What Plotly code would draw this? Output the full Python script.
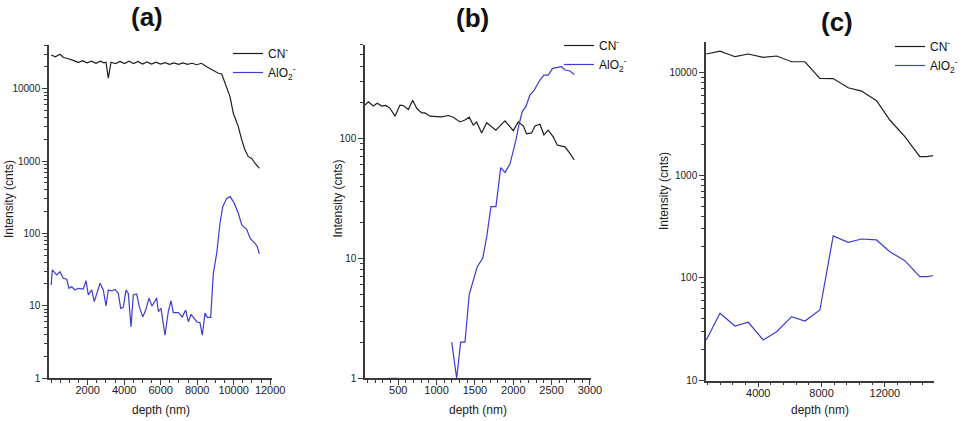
import plotly.graph_objects as go

# ---------------- data ----------------
# panel (a)
a_cn_depth = [0, 230, 483, 675, 850, 1058, 1250, 1486, 1716, 1962,
              2209, 2456, 2702, 2894, 3004, 3130, 3278, 3524, 3771, 4017,
              4264, 4511, 4757, 5004, 5250, 5497, 5744, 5990, 6237, 6483,
              6730, 6977, 7223, 7470, 7716, 7974, 8237, 8522, 8867, 9158,
              9344, 9525, 9799, 9980, 10254, 10440, 10621, 10802, 10988, 11169,
              11350, 11405]
a_cn_int = [29300, 27600, 30000, 27000, 26400, 25500, 24500, 23000, 24500, 22800,
            24000, 22500, 24000, 22800, 23300, 14000, 23300, 22300, 23800, 22300,
            24000, 22300, 23800, 22000, 23500, 22000, 23300, 22000, 23000, 21800,
            22800, 21800, 22800, 21800, 22500, 21500, 22500, 20200, 18200, 16400,
            16000, 11900, 7780, 4580, 2990, 1960, 1425, 1150, 1090, 933,
            836, 795]
a_alo_depth = [0, 61, 302, 483, 664, 850, 976, 1124, 1305, 1486,
               1760, 1908, 2034, 2220, 2362, 2675, 2856, 3004, 3130, 3316,
               3497, 3678, 3809, 3952, 4100, 4226, 4374, 4500, 4686, 4828,
               5015, 5179, 5360, 5524, 5782, 5870, 6018, 6237, 6418, 6566,
               6692, 6966, 7184, 7371, 7514, 7662, 7974, 8155, 8281, 8429,
               8555, 8741, 8884, 9070, 9251, 9399, 9618, 9799, 10018, 10254,
               10440, 10714, 10895, 11169, 11295, 11405]
a_alo_int = [19.3, 31.2, 26.6, 29.5, 23.9, 23.2, 17.4, 18.3, 16.5, 17.4,
             17, 22.2, 14.1, 16.5, 11.4, 20.4, 16.5, 9.9, 16.5, 16,
             16.8, 14.8, 9.2, 9.5, 16.5, 14.8, 5.1, 14.1, 14.5, 9.7,
             7.0, 8.7, 12.7, 9.9, 12.7, 8.3, 9.2, 3.9, 8.3, 11.7,
             8.0, 8.0, 7.0, 8.7, 6.0, 7.6, 6.0, 5.8, 3.9, 7.9,
             6.9, 6.9, 28, 53, 138, 234, 305, 322, 266, 190,
             131, 114, 85.5, 73, 65.5, 52]

# panel (b)
b_cn_depth = [66, 109, 174, 226, 284, 340, 392, 457, 522, 565,
              631, 688, 740, 805, 848, 914, 1001, 1066, 1152, 1217,
              1305, 1370, 1426, 1478, 1522, 1588, 1653, 1718, 1774, 1826,
              1892, 1948, 2000, 2065, 2130, 2174, 2240, 2283, 2348, 2400,
              2456, 2521, 2574, 2631, 2674, 2739, 2795]
b_cn_int = [189.5, 202, 186, 196, 186, 188, 178, 153, 189.5, 188,
            174, 208, 178, 163, 163, 153, 152, 151, 155, 150,
            137, 142, 150, 129, 137, 111, 135, 124, 117, 127,
            140, 127, 116, 137, 127, 109, 111, 127, 131, 107,
            117, 103, 88, 86, 85, 75, 66]
b_alo_depth = [370, 500, None,
               1197, 1262, 1314, 1370, 1426, 1478, 1530, 1601, 1653, 1709,
               1774, 1836, 1892, 1957, 1996, 2035, 2078, 2117, 2162, 2218,
               2270, 2348, 2400, 2456, 2513, 2586, 2631, 2674, 2739, 2795]
b_alo_int = [1, 1, None,
             2, 1, 2, 2, 5, 6.6, 8.5, 10, 15, 27,
             27, 57, 52, 61, 75, 97, 133, 167, 183, 230,
             250, 306, 337, 337, 383, 388, 395, 371, 364, 341]

# panel (c)
c_depth = [720, 1583, 2530, 3369, 4316, 5161, 6108, 6947, 7893, 8733,
           9679, 10525, 11471, 12310, 13257, 14203, 14626, 15042]
c_cn_int = [15070, 16100, 14190, 15070, 14000, 14420, 12680, 12680, 8750, 8700,
            7080, 6570, 5290, 3436, 2366, 1511, 1511, 1545]
c_alo_int = [24.9, 45.3, 34, 37, 24.9, 30, 42, 38.1, 48.7, 256,
             222, 239, 234, 180, 147, 103, 103, 105]

series_names = ["CN<sup>-</sup>", "AlO<sub>2</sub><sup>-</sup>"]
panel_titles = ["(a)", "(b)", "(c)"]
x_title = "depth (nm)"
y_title = "Intensity (cnts)"
a_xticks = [2000, 4000, 6000, 8000, 10000, 12000]
b_xticks = [500, 1000, 1500, 2000, 2500, 3000]
c_xticks = [4000, 8000, 12000]
y_ticks = [1, 10, 100, 1000, 10000]

# ---------------- styling ----------------
W, H = 961, 421
FONT = "Liberation Sans, Arial, sans-serif"
AX = "#3a3a3a"
CN_COLOR = "#1e1e1e"
ALO_COLOR = "#3c3cd2"


def px(x):
    return x / W


def py(y):
    return 1 - y / H


fig = go.Figure()

panels = [
    (a_cn_depth, a_cn_int, a_alo_depth, a_alo_int, "x", "y", "legend"),
    (b_cn_depth, b_cn_int, b_alo_depth, b_alo_int, "x2", "y2", "legend2"),
    (c_depth, c_cn_int, c_depth, c_alo_int, "x3", "y3", "legend3"),
]
for cx, cy, ax_, ay_, xa, ya, lg in panels:
    fig.add_trace(go.Scatter(x=cx, y=cy, mode="lines", name=series_names[0],
                             line=dict(color=CN_COLOR, width=1.2),
                             xaxis=xa, yaxis=ya, legend=lg))
    fig.add_trace(go.Scatter(x=ax_, y=ay_, mode="lines", name=series_names[1],
                             line=dict(color=ALO_COLOR, width=1.2),
                             xaxis=xa, yaxis=ya, legend=lg))


def xaxis(domain, rng, anchor, minor_dtick, tickvals):
    return dict(domain=domain, range=rng, anchor=anchor,
                tickmode="array", tickvals=tickvals,
                ticktext=[str(v) for v in tickvals],
                ticks="outside", ticklen=5, tickwidth=1, tickcolor=AX,
                ticklabelstandoff=-4,
                showline=True, linecolor=AX, linewidth=1.5,
                showgrid=False, zeroline=False,
                tickfont=dict(family=FONT, size=11, color="#222"),
                minor=dict(ticks="outside", ticklen=3, tickwidth=1,
                           tickcolor=AX, dtick=minor_dtick, tick0=0,
                           showgrid=False))


def yaxis(domain, rng, anchor):
    return dict(domain=domain, range=rng, anchor=anchor, type="log",
                tickmode="array", tickvals=y_ticks,
                ticktext=[str(v) for v in y_ticks],
                ticks="outside", ticklen=5, tickwidth=1, tickcolor=AX,
                showline=True, linecolor=AX, linewidth=1.5,
                showgrid=False, zeroline=False,
                tickfont=dict(family=FONT, size=10, color="#222"),
                minor=dict(ticks="outside", ticklen=3, tickwidth=1,
                           tickcolor=AX, dtick="D1", showgrid=False))


legend_common = dict(xanchor="left", yanchor="top", bgcolor="rgba(0,0,0,0)",
                     borderwidth=0, itemwidth=30,
                     font=dict(family=FONT, size=12, color="#111"))

fig.update_layout(
    width=W, height=H,
    margin=dict(l=0, r=0, t=0, b=0, autoexpand=False),
    paper_bgcolor="white", plot_bgcolor="white",
    showlegend=True,
    xaxis=xaxis([px(49), px(272)], [-120, 12100], "y", 500, a_xticks),
    yaxis=yaxis([py(378), py(45)], [0, 4.605], "x"),
    xaxis2=xaxis([px(365), px(590.7)], [66, 3010], "y2", 100, b_xticks),
    yaxis2=yaxis([py(378.3), py(45)], [0, 2.778], "x2"),
    xaxis3=xaxis([px(706), px(934)], [700, 15100], "y3", 800, c_xticks),
    yaxis3=yaxis([py(380.7), py(41.7)], [1, 4.298], "x3"),
    legend=dict(x=px(228), y=py(39), **legend_common),
    legend2=dict(x=px(559), y=py(31), **legend_common),
    legend3=dict(x=px(890), y=py(32), **legend_common),
)

# panel titles
for title, xc, yc in zip(panel_titles, [147, 472, 837], [17, 18, 22]):
    fig.add_annotation(text="<b>%s</b>" % title, x=px(xc), y=py(yc),
                       xref="paper", yref="paper", showarrow=False,
                       xanchor="center", yanchor="middle",
                       font=dict(family=FONT, size=26, color="#111"))

# axis titles
for xc in [161, 478, 820]:
    fig.add_annotation(text=x_title, x=px(xc), y=py(410), xref="paper",
                       yref="paper", showarrow=False,
                       xanchor="center", yanchor="middle",
                       font=dict(family=FONT, size=12, color="#222"))
for xc, yc in [(9, 199), (337.5, 199), (664, 191)]:
    fig.add_annotation(text=y_title, x=px(xc), y=py(yc), xref="paper",
                       yref="paper", showarrow=False, textangle=-90,
                       xanchor="center", yanchor="middle",
                       font=dict(family=FONT, size=12, color="#222"))

fig.write_html("out.html")
